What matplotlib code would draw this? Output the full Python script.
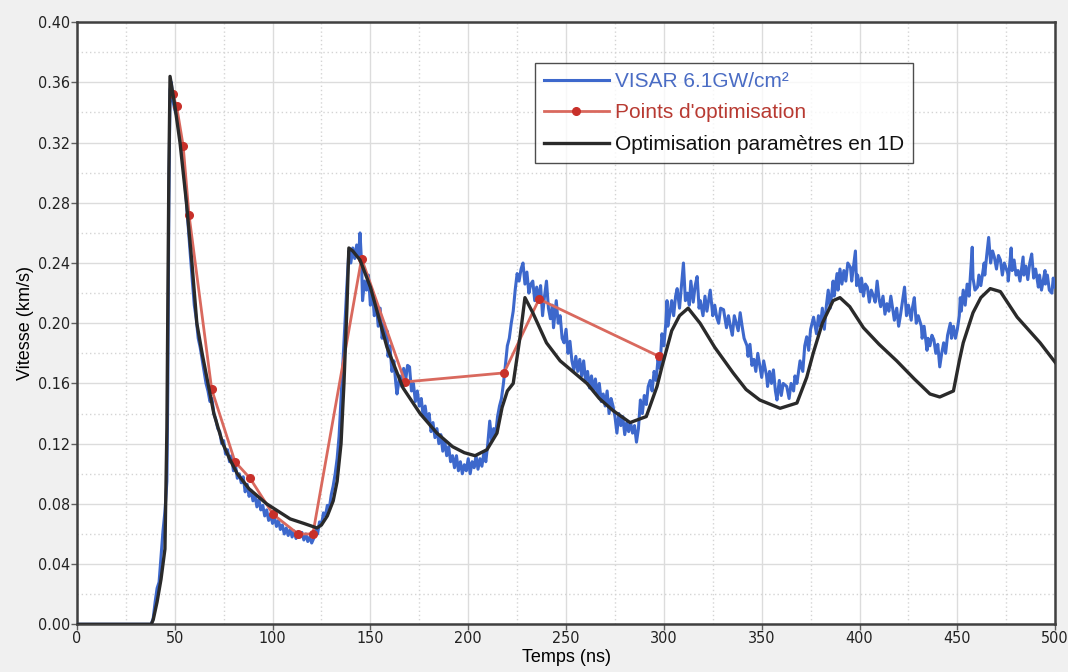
import matplotlib
matplotlib.use("Agg")
import matplotlib.pyplot as plt
from matplotlib.ticker import MultipleLocator
from matplotlib import font_manager

plt.rcParams['font.family'] = ['Liberation Sans', 'DejaVu Sans']

# VISAR measurement (ns, km/s)
visar_t = [0, 38, 39, 40, 41, 42, 43, 44, 45, 46, 46.5, 47, 47.6, 48.3, 49, 50, 51, 52, 53, 54,
           55, 56, 57, 58, 59, 60, 61, 62, 63, 64, 65, 66, 67, 68, 69, 70, 71, 72, 73, 74,
           75, 76, 77, 78, 79, 80, 81, 82, 83, 84, 85, 86, 87, 88, 89, 90, 91, 92, 93, 94,
           95, 96, 97, 98, 99, 100, 101, 102, 103, 104, 105, 106, 107, 108, 109, 110, 111, 112, 113, 114,
           115, 116, 117, 118, 119, 120, 121, 122, 123, 124, 125, 126, 127, 128, 129, 130, 131, 132, 133, 134,
           135, 136, 137, 138, 139, 140, 141, 142, 143, 144, 144.7, 145.5, 146, 147, 148, 149, 150, 151, 152, 153,
           154, 155, 156, 157, 158, 158.5, 159, 160, 161, 162, 163, 163.6, 165, 166, 167, 168, 169, 170, 171, 172,
           173, 174, 175, 176, 177, 178, 179, 180, 181, 182, 183, 184, 185, 186, 187, 188, 189, 190, 191, 192,
           193, 194, 195, 196, 197, 198, 199, 200, 201, 202, 203, 204, 205, 206, 207, 208, 209, 210, 211, 212,
           213, 214, 215, 216, 217, 218, 219, 220, 221, 222, 223, 224, 225, 226, 227, 228, 229, 230, 231, 232,
           233, 234, 235, 236, 237, 238, 239, 240, 241, 242, 243, 243.6, 245, 246, 247, 248, 249, 250, 251, 252,
           253, 254, 255, 256, 257, 258, 259, 260, 261, 262, 263, 264, 265, 266, 267, 268, 269, 270, 271, 272,
           273, 274, 275, 276, 277, 278, 279, 280, 281, 282, 283, 284, 285, 286, 287, 288, 289, 290, 291, 292,
           293, 294, 295, 296, 297, 298, 299, 300, 301, 301.6, 302, 303, 304, 305, 306, 306.8, 308, 309, 310, 311,
           312, 313, 313.8, 315, 316, 317, 318, 318.6, 320, 321, 322, 323.7, 325, 326, 327, 328, 329, 330.5, 332, 333,
           334, 335, 336, 337, 338, 339, 340, 341, 342.5, 343, 344, 345, 346, 347, 348, 349, 350, 351, 352.5, 353,
           354, 355, 356, 357, 357.8, 359, 360, 361, 362.8, 364, 365, 366.3, 367, 368, 369.6, 371, 372, 373, 374, 375,
           376.5, 378, 379, 380, 381, 382, 383, 384, 385, 386.5, 387, 388.5, 389, 390, 391, 392, 393, 394, 395.4, 396,
           397.9, 398.5, 399, 400.5, 401, 402, 403, 404, 405, 406, 407.4, 408, 409, 410, 410.8, 412, 413, 414, 415, 416,
           417.8, 419, 420, 421, 422, 423, 424, 425, 426.4, 427, 428, 429, 430, 431.6, 432, 433, 434.5, 435, 436, 437,
           438, 439, 440, 441, 442, 443, 444, 445, 446.4, 447, 448, 449, 450, 451, 451.5, 452, 453, 454, 455, 456,
           457.6, 458, 459, 460.3, 461, 462, 463.7, 464, 465, 466, 467, 468, 468.9, 470, 471, 472, 473, 474, 475.8, 476,
           477.5, 478, 479, 480, 481, 482, 483.6, 484, 485, 486, 487, 488, 489, 490, 491.4, 492, 493, 494.8, 495, 496,
           497, 498.3, 499, 500]
visar_v = [0, 0, 0.004, 0.015, 0.024, 0.028, 0.045, 0.062, 0.075, 0.095, 0.16, 0.28, 0.355, 0.36, 0.348, 0.342, 0.338, 0.33, 0.322, 0.31,
           0.296, 0.28, 0.262, 0.245, 0.228, 0.212, 0.203, 0.19, 0.184, 0.176, 0.168, 0.16, 0.155, 0.148, 0.15, 0.14, 0.136, 0.13, 0.128, 0.12,
           0.122, 0.113, 0.116, 0.108, 0.112, 0.102, 0.106, 0.097, 0.1, 0.094, 0.098, 0.088, 0.093, 0.085, 0.089, 0.082, 0.086, 0.078, 0.083, 0.076,
           0.079, 0.072, 0.076, 0.069, 0.073, 0.067, 0.071, 0.065, 0.069, 0.063, 0.066, 0.06, 0.064, 0.059, 0.063, 0.058, 0.062, 0.057, 0.06, 0.058,
           0.061, 0.056, 0.06, 0.055, 0.058, 0.054, 0.057, 0.063, 0.06, 0.068, 0.066, 0.074, 0.072, 0.079, 0.077, 0.086, 0.092, 0.1, 0.11, 0.125,
           0.15, 0.175, 0.2, 0.225, 0.248, 0.24, 0.25, 0.243, 0.252, 0.245, 0.26, 0.24, 0.215, 0.228, 0.222, 0.232, 0.212, 0.222, 0.205, 0.214,
           0.198, 0.21, 0.19, 0.2, 0.188, 0.195, 0.178, 0.185, 0.168, 0.175, 0.16, 0.153, 0.165, 0.158, 0.17, 0.162, 0.172, 0.171, 0.155, 0.16,
           0.148, 0.155, 0.145, 0.15, 0.138, 0.145, 0.135, 0.14, 0.128, 0.134, 0.124, 0.13, 0.12, 0.126, 0.115, 0.122, 0.112, 0.118, 0.108, 0.112,
           0.104, 0.112, 0.102, 0.108, 0.1, 0.106, 0.102, 0.11, 0.1, 0.108, 0.104, 0.112, 0.103, 0.11, 0.105, 0.114, 0.108, 0.12, 0.135, 0.122,
           0.13, 0.126, 0.138, 0.145, 0.15, 0.16, 0.172, 0.185, 0.19, 0.2, 0.208, 0.222, 0.233, 0.228, 0.236, 0.24, 0.226, 0.234, 0.22, 0.226,
           0.228, 0.215, 0.224, 0.215, 0.225, 0.205, 0.218, 0.228, 0.21, 0.203, 0.212, 0.197, 0.215, 0.2, 0.205, 0.19, 0.187, 0.196, 0.18, 0.188,
           0.175, 0.169, 0.178, 0.168, 0.176, 0.165, 0.175, 0.162, 0.168, 0.157, 0.165, 0.155, 0.163, 0.152, 0.16, 0.148, 0.153, 0.145, 0.155, 0.14,
           0.15, 0.145, 0.138, 0.127, 0.14, 0.132, 0.138, 0.126, 0.134, 0.128, 0.134, 0.127, 0.132, 0.121, 0.13, 0.149, 0.14, 0.152, 0.146, 0.158,
           0.162, 0.155, 0.168, 0.162, 0.176, 0.17, 0.193, 0.185, 0.2, 0.215, 0.198, 0.206, 0.215, 0.205, 0.218, 0.223, 0.21, 0.225, 0.24, 0.215,
           0.22, 0.212, 0.228, 0.214, 0.225, 0.231, 0.21, 0.215, 0.205, 0.218, 0.208, 0.222, 0.205, 0.212, 0.204, 0.2, 0.21, 0.209, 0.197, 0.205,
           0.198, 0.192, 0.205, 0.2, 0.195, 0.207, 0.198, 0.19, 0.185, 0.178, 0.186, 0.172, 0.176, 0.168, 0.18, 0.172, 0.164, 0.175, 0.165, 0.158,
           0.168, 0.16, 0.169, 0.155, 0.149, 0.162, 0.152, 0.16, 0.158, 0.15, 0.16, 0.155, 0.165, 0.16, 0.175, 0.168, 0.185, 0.191, 0.182, 0.196,
           0.204, 0.193, 0.205, 0.198, 0.21, 0.196, 0.211, 0.222, 0.21, 0.228, 0.218, 0.233, 0.222, 0.236, 0.226, 0.235, 0.228, 0.24, 0.237, 0.228,
           0.248, 0.225, 0.232, 0.221, 0.23, 0.218, 0.226, 0.224, 0.214, 0.222, 0.217, 0.214, 0.228, 0.216, 0.211, 0.218, 0.206, 0.213, 0.208, 0.218,
           0.202, 0.21, 0.198, 0.206, 0.215, 0.224, 0.205, 0.212, 0.202, 0.21, 0.217, 0.2, 0.205, 0.198, 0.19, 0.198, 0.182, 0.19, 0.185, 0.192,
           0.189, 0.18, 0.186, 0.171, 0.18, 0.187, 0.18, 0.192, 0.2, 0.19, 0.198, 0.19, 0.196, 0.205, 0.217, 0.208, 0.222, 0.212, 0.226, 0.218,
           0.2505, 0.23, 0.222, 0.224, 0.232, 0.225, 0.24, 0.232, 0.245, 0.257, 0.24, 0.248, 0.244, 0.236, 0.245, 0.242, 0.232, 0.24, 0.233, 0.228,
           0.25, 0.235, 0.242, 0.232, 0.235, 0.228, 0.244, 0.232, 0.238, 0.229, 0.24, 0.246, 0.23, 0.236, 0.224, 0.232, 0.222, 0.235, 0.226, 0.232,
           0.222, 0.22, 0.23, 0.224]

# optimisation points
opt_t = [48.9, 51, 54.3, 57.3, 68.9, 80.8, 88.5, 100.3, 113, 120.6, 145.5, 167.7, 218.3, 236.2, 297.5]
opt_v = [0.352, 0.344, 0.318, 0.272, 0.156, 0.108, 0.097, 0.073, 0.060, 0.060, 0.243, 0.161, 0.167, 0.216, 0.178]

# 1D simulation
sim_t = [0, 38, 39, 41, 43, 45, 46, 47, 47.6, 50, 52.7, 56, 58.8, 61.3, 64, 67, 70, 74.6, 78, 82,
         88, 97, 103, 109, 116, 122.7, 125, 128, 131, 133, 135, 136.5, 138, 139, 141, 144.7, 150, 158.5, 166.7, 175.4,
         184, 192, 198, 203.5, 209.6, 214.7, 217.3, 220, 223, 226.5, 229, 233, 240, 247, 260.7, 267, 274, 282.7, 291, 296.5,
         299, 304, 308, 312.4, 318.5, 326, 335.4, 342, 349, 359.4, 368, 373, 376.3, 381, 386.5, 390, 395, 402, 410, 419,
         428, 436, 441, 448, 451, 453, 458, 462, 466.8, 472, 480.6, 492.3, 500]
sim_v = [0, 0, 0.003, 0.015, 0.03, 0.05, 0.13, 0.30, 0.364, 0.345, 0.32, 0.28, 0.24, 0.20, 0.18, 0.16, 0.14, 0.12, 0.11, 0.10,
         0.09, 0.08, 0.075, 0.07, 0.067, 0.064, 0.066, 0.072, 0.082, 0.095, 0.12, 0.16, 0.21, 0.25, 0.248, 0.242, 0.224, 0.184, 0.157, 0.140,
         0.127, 0.118, 0.114, 0.112, 0.116, 0.127, 0.144, 0.155, 0.160, 0.191, 0.217, 0.207, 0.187, 0.175, 0.160, 0.150, 0.142, 0.134, 0.138, 0.158,
         0.171, 0.195, 0.205, 0.210, 0.200, 0.184, 0.167, 0.156, 0.149, 0.1435, 0.147, 0.164, 0.180, 0.200, 0.215, 0.217, 0.211, 0.197, 0.186, 0.175,
         0.163, 0.153, 0.151, 0.155, 0.175, 0.187, 0.207, 0.217, 0.223, 0.221, 0.204, 0.187, 0.174]

# condensed face for the tick labels when one is installed
condensed = [f for f in font_manager.fontManager.ttflist
             if f.name == 'DejaVu Sans' and f.stretch == 'condensed' and f.style == 'normal']
if condensed:
    tick_kw = dict(family='DejaVu Sans', stretch='condensed', size=11.5)
else:
    tick_kw = dict(family='Liberation Sans', size=11.5)

fig = plt.figure(figsize=(10.68, 6.72), dpi=100, facecolor='#f0f0f0')
ax = fig.add_axes([0.072, 0.071, 0.916, 0.896])
ax.set_facecolor('white')

ax.plot(visar_t, visar_v, color='#3d68cc', lw=2.2, label='VISAR 6.1GW/cm²', zorder=3)
ax.plot(opt_t, opt_v, color='#d9695e', lw=2, marker='o', ms=5.5, mfc='#c8302a', mec='#c8302a',
        label="Points d'optimisation", zorder=4)
ax.plot(sim_t, sim_v, color='#2a2a2a', lw=2.4, label='Optimisation paramètres en 1D', zorder=5)

ax.set_xlim(0, 500)
ax.set_ylim(0, 0.40)
ax.xaxis.set_major_locator(MultipleLocator(50))
ax.xaxis.set_minor_locator(MultipleLocator(25))
ax.yaxis.set_major_locator(MultipleLocator(0.04))
ax.yaxis.set_minor_locator(MultipleLocator(0.02))
ax.yaxis.set_major_formatter(plt.FuncFormatter(lambda v, p: f'{v:.2f}'))
ax.grid(which='major', color='#dcdcdc', lw=1, ls='-')
ax.grid(which='minor', color='#d4d4d4', lw=1, ls=(0, (1, 2)))
ax.set_axisbelow(True)

for s in ax.spines.values():
    s.set_color('#404040')
    s.set_linewidth(1.8)

ax.tick_params(which='major', direction='out', length=4, width=1, color='#606060',
               labelcolor='#222222', pad=1)
ax.tick_params(which='minor', length=0)
ax.set_xticks(ax.get_xticks())
ax.set_xticklabels([f'{v:g}' for v in ax.get_xticks()], **tick_kw)
ax.set_yticks(ax.get_yticks())
ax.set_yticklabels([f'{v:.2f}' for v in ax.get_yticks()], **tick_kw)
ax.set_xlim(0, 500)
ax.set_ylim(0, 0.40)

ax.set_xlabel('Temps (ns)', fontsize=13, labelpad=2)
ax.set_ylabel('Vitesse (km/s)', fontsize=13, labelpad=3)

leg = ax.legend(loc='upper left', bbox_to_anchor=(0.468, 0.933), fontsize=15, frameon=True,
                fancybox=False, handlelength=3.1, handletextpad=0.3, borderpad=0.45,
                labelspacing=0.6, borderaxespad=0)
leg.get_frame().set_edgecolor('#202020')
leg.get_frame().set_linewidth(1)
for txt, c in zip(leg.get_texts(), ['#4a6cc4', '#b83a32', '#111111']):
    txt.set_color(c)

fig.savefig('out.png', dpi=100, facecolor=fig.get_facecolor())
